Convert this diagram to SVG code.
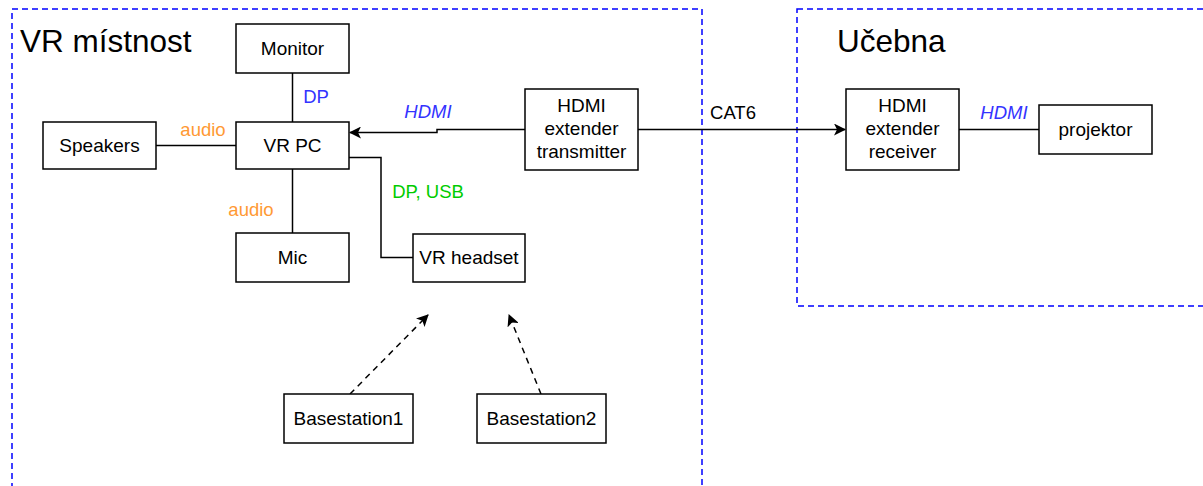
<svg xmlns="http://www.w3.org/2000/svg" width="1203" height="486" viewBox="0 0 1203 486">
<style>
.box{fill:#fff;stroke:#000;stroke-width:1.5}
.zone{fill:none;stroke:#0000ff;stroke-width:1.5;stroke-dasharray:6 4}
.t{font-family:"Liberation Sans",Arial,sans-serif;font-size:19px;fill:#000;text-anchor:middle}
.title{font-family:"Liberation Sans",Arial,sans-serif;font-size:31.5px;fill:#000}
.e{fill:none;stroke:#000;stroke-width:1.5}
.d{fill:none;stroke:#000;stroke-width:1.5;stroke-dasharray:6 5}
.lb{font-family:"Liberation Sans",Arial,sans-serif;font-size:18.5px;text-anchor:middle}
.blue{fill:#3333ff}
.orange{fill:#ff9933}
.green{fill:#00cc00}
.it{font-style:italic}
</style>
<defs>
<marker id="arr" viewBox="0 0 12 12" refX="11" refY="6" markerWidth="12" markerHeight="12" markerUnits="userSpaceOnUse" orient="auto">
<path d="M0,0 L12,6 L0,12 L3,6 Z" fill="#000"/>
</marker>
</defs>
<rect width="1203" height="486" fill="#fff"/>
<g id="zone-vr">
<rect class="zone" x="12" y="9" width="690" height="500"/>
<text class="title" x="20" y="52">VR místnost</text>
</g>
<g id="zone-ucebna">
<rect class="zone" x="797" y="9" width="430" height="297"/>
<text class="title" x="837" y="52">Učebna</text>
</g>
<g id="connectors">
<path class="e" d="M292.5,73 V122"/>
<path class="e" d="M156,145.5 H236"/>
<path class="e" d="M292.5,169 V233"/>
<path class="e" d="M525,129.5 H437 V132.5 H350" marker-end="url(#arr)"/>
<path class="e" d="M349,157.5 H381 V257.5 H413"/>
<path class="e" d="M638,129.5 H845" marker-end="url(#arr)"/>
<path class="e" d="M959,129.5 H1039"/>
<path class="d" d="M350,394 L428,315" marker-end="url(#arr)"/>
<path class="d" d="M541,394 L509,315" marker-end="url(#arr)"/>
<text class="lb blue" x="316" y="103">DP</text>
<text class="lb orange" x="203" y="136">audio</text>
<text class="lb orange" x="251" y="216">audio</text>
<text class="lb blue it" x="428" y="118">HDMI</text>
<text class="lb green" x="428" y="198">DP, USB</text>
<text class="lb" x="733" y="119">CAT6</text>
<text class="lb blue it" x="1004" y="119">HDMI</text>
</g>
<g id="monitor"><rect class="box" x="236" y="24" width="113" height="49"/><text class="t" x="292.5" y="55">Monitor</text></g>
<g id="vrpc"><rect class="box" x="236" y="122" width="113" height="47"/><text class="t" x="292.5" y="152">VR PC</text></g>
<g id="speakers"><rect class="box" x="43" y="122" width="113" height="47"/><text class="t" x="99.5" y="152">Speakers</text></g>
<g id="mic"><rect class="box" x="236" y="233" width="113" height="49"/><text class="t" x="292.5" y="264">Mic</text></g>
<g id="headset"><rect class="box" x="413" y="234" width="112" height="48"/><text class="t" x="469" y="264">VR headset</text></g>
<g id="transmitter"><rect class="box" x="525" y="89" width="113" height="81"/><text class="t" x="581.5" y="112">HDMI</text><text class="t" x="581.5" y="135">extender</text><text class="t" x="581.5" y="158">transmitter</text></g>
<g id="receiver"><rect class="box" x="846" y="89" width="113" height="81"/><text class="t" x="902.5" y="112">HDMI</text><text class="t" x="902.5" y="135">extender</text><text class="t" x="902.5" y="158">receiver</text></g>
<g id="projektor"><rect class="box" x="1039" y="105" width="113" height="49"/><text class="t" x="1095.5" y="136">projektor</text></g>
<g id="basestation1"><rect class="box" x="284" y="394" width="129" height="49"/><text class="t" x="348.5" y="425">Basestation1</text></g>
<g id="basestation2"><rect class="box" x="477" y="394" width="129" height="49"/><text class="t" x="541.5" y="425">Basestation2</text></g>
</svg>
